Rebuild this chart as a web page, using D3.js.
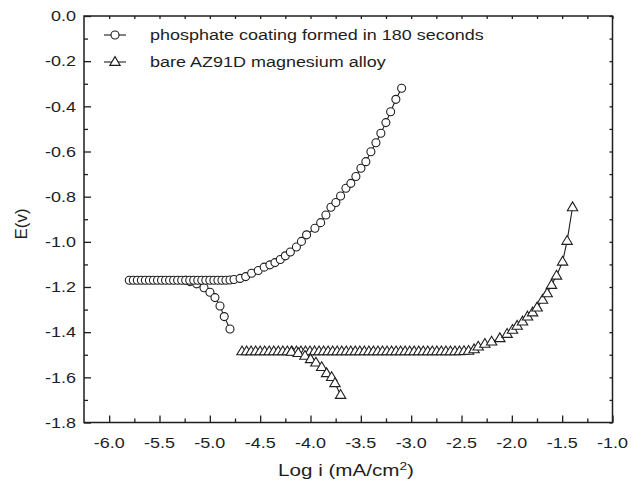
<!DOCTYPE html>
<html>
<head>
<meta charset="utf-8">
<script src="https://cdn.jsdelivr.net/npm/d3@7"></script>
<style>
  html, body { margin: 0; padding: 0; background: #fff; }
  svg { display: block; }
  text { font-family: "Liberation Sans", Arial, Helvetica, sans-serif; fill: #1e1e1e; }
</style>
</head>
<body>
<div id="chart"></div>
<script>
// ---------------- data ----------------
const xTicks = [-6.0, -5.5, -5.0, -4.5, -4.0, -3.5, -3.0, -2.5, -2.0, -1.5, -1.0];
const xTickLabels = ["-6.0", "-5.5", "-5.0", "-4.5", "-4.0", "-3.5", "-3.0", "-2.5", "-2.0", "-1.5", "-1.0"];
const xMinorTicks = [-5.75, -5.25, -4.75, -4.25, -3.75, -3.25, -2.75, -2.25, -1.75, -1.25];
const yTicks = [0.0, -0.2, -0.4, -0.6, -0.8, -1.0, -1.2, -1.4, -1.6, -1.8];
const yTickLabels = ["0.0", "-0.2", "-0.4", "-0.6", "-0.8", "-1.0", "-1.2", "-1.4", "-1.6", "-1.8"];
const yMinorTicks = [-0.1, -0.3, -0.5, -0.7, -0.9, -1.1, -1.3, -1.5, -1.7];

const legendLabels = ["phosphate coating formed in 180 seconds", "bare AZ91D magnesium alloy"];

// phosphate coating, anodic part (flat row + rising branch)
const phosLogI = [
  -5.80, -5.76, -5.72, -5.68, -5.64, -5.60, -5.56, -5.52, -5.48, -5.44,
  -5.40, -5.36, -5.32, -5.28, -5.24, -5.20, -5.16, -5.12, -5.08, -5.04,
  -5.00, -4.96, -4.92, -4.88, -4.84, -4.80, -4.76, -4.70, -4.644, -4.585,
  -4.519, -4.460, -4.403, -4.353, -4.30, -4.25, -4.20, -4.14, -4.09, -4.039,
  -3.956, -3.899, -3.847, -3.797, -3.748, -3.701, -3.648, -3.599, -3.549, -3.499,
  -3.450, -3.400, -3.350, -3.301, -3.251, -3.204, -3.152, -3.095
];
const phosE = [
  -1.170, -1.170, -1.170, -1.170, -1.170, -1.170, -1.170, -1.170, -1.170, -1.170,
  -1.170, -1.170, -1.170, -1.170, -1.170, -1.170, -1.170, -1.170, -1.170, -1.170,
  -1.170, -1.170, -1.170, -1.170, -1.170, -1.169, -1.167, -1.162, -1.154, -1.139,
  -1.127, -1.112, -1.102, -1.092, -1.078, -1.062, -1.045, -1.023, -0.998, -0.969,
  -0.940, -0.915, -0.881, -0.847, -0.826, -0.797, -0.763, -0.741, -0.711, -0.674,
  -0.645, -0.601, -0.561, -0.519, -0.472, -0.424, -0.369, -0.320
];
// phosphate coating, cathodic branch
const phosCathLogI = [-5.24, -5.197, -5.131, -5.058, -4.999, -4.949, -4.899, -4.857, -4.800];
const phosCathE = [-1.170, -1.176, -1.186, -1.203, -1.223, -1.247, -1.284, -1.331, -1.386];

// bare AZ91D, anodic part (flat row + rising branch)
const bareLogI = [
  -4.680, -4.635, -4.590, -4.545, -4.500, -4.455, -4.410, -4.365, -4.320, -4.275,
  -4.230, -4.185, -4.140, -4.095, -4.050, -4.005, -3.960, -3.915, -3.870, -3.825,
  -3.780, -3.735, -3.690, -3.645, -3.600, -3.555, -3.510, -3.465, -3.420, -3.375,
  -3.330, -3.285, -3.240, -3.195, -3.150, -3.105, -3.060, -3.015, -2.970, -2.925,
  -2.880, -2.835, -2.790, -2.745, -2.700, -2.655, -2.610, -2.565, -2.520, -2.475,
  -2.430, -2.375, -2.334, -2.268, -2.201, -2.119, -2.047, -1.993, -1.947, -1.894,
  -1.844, -1.794, -1.749, -1.695, -1.649, -1.606, -1.556, -1.496, -1.451, -1.397
];
const bareE = [
  -1.485, -1.485, -1.485, -1.485, -1.485, -1.485, -1.485, -1.485, -1.485, -1.485,
  -1.485, -1.485, -1.485, -1.485, -1.485, -1.485, -1.485, -1.485, -1.485, -1.485,
  -1.485, -1.485, -1.485, -1.485, -1.485, -1.485, -1.485, -1.485, -1.485, -1.485,
  -1.485, -1.485, -1.485, -1.485, -1.485, -1.485, -1.485, -1.485, -1.485, -1.485,
  -1.485, -1.485, -1.485, -1.485, -1.485, -1.485, -1.485, -1.485, -1.485, -1.484,
  -1.483, -1.476, -1.464, -1.452, -1.442, -1.427, -1.408, -1.390, -1.372, -1.353,
  -1.331, -1.313, -1.291, -1.257, -1.228, -1.191, -1.150, -1.088, -0.996, -0.847
];
// bare AZ91D, cathodic branch
const bareCathLogI = [-4.19, -4.122, -4.055, -3.999, -3.946, -3.889, -3.840, -3.790, -3.757, -3.701];
const bareCathE = [-1.487, -1.493, -1.505, -1.520, -1.535, -1.555, -1.582, -1.599, -1.626, -1.678];

// ---------------- drawing ----------------
(function () {
const W = 632, H = 481;
const mLeft = 84, mRight = 612.5, mTop = 16, mBottom = 422.5;
const STRETCH = 1.24;
const FS = 14.5;
const INK = "#1e1e1e";

const svg = d3.select("#chart").append("svg").attr("width", W).attr("height", H);

const x = d3.scaleLinear().domain([-6.25, -1.0]).range([mLeft, mRight]);
const y = d3.scaleLinear().domain([0, -1.8]).range([mTop, mBottom]);

function styleAxis(g) {
  g.select(".domain").remove();
  g.selectAll("line").attr("stroke", INK).attr("stroke-width", 1.3);
  g.selectAll("text").remove();
}
svg.append("g").attr("transform", `translate(0,${mBottom})`)
  .call(d3.axisBottom(x).tickValues(xTicks).tickSize(-7).tickFormat("")).call(styleAxis);
svg.append("g").attr("transform", `translate(0,${mBottom})`)
  .call(d3.axisBottom(x).tickValues(xMinorTicks).tickSize(-4).tickFormat("")).call(styleAxis);
svg.append("g").attr("transform", `translate(${mLeft},0)`)
  .call(d3.axisLeft(y).tickValues(yTicks).tickSize(-7).tickFormat("")).call(styleAxis);
svg.append("g").attr("transform", `translate(${mLeft},0)`)
  .call(d3.axisLeft(y).tickValues(yMinorTicks).tickSize(-4).tickFormat("")).call(styleAxis);
svg.append("g").attr("transform", `translate(0,${mTop})`)
  .call(d3.axisTop(x).tickValues(xTicks.concat(xMinorTicks)).tickSize(-3).tickFormat("")).call(styleAxis);
svg.append("g").attr("transform", `translate(${mRight},0)`)
  .call(d3.axisRight(y).tickValues(yTicks.concat(yMinorTicks)).tickSize(-3).tickFormat("")).call(styleAxis);

svg.append("rect").attr("x", mLeft).attr("y", mTop)
  .attr("width", mRight - mLeft).attr("height", mBottom - mTop)
  .attr("fill", "none").attr("stroke", INK).attr("stroke-width", 1.5);

svg.append("g").selectAll("text").data(xTicks).join("text")
  .attr("transform", d => `translate(${x(d)},448) scale(${STRETCH},1)`)
  .attr("text-anchor", "middle").attr("font-size", FS)
  .text((d, i) => xTickLabels[i]);
svg.append("g").selectAll("text").data(yTicks).join("text")
  .attr("transform", d => `translate(76,${y(d) + 5.2}) scale(${STRETCH},1)`)
  .attr("text-anchor", "end").attr("font-size", FS)
  .text((d, i) => yTickLabels[i]);

const xt = svg.append("text")
  .attr("transform", `translate(346,476) scale(1.25,1)`)
  .attr("text-anchor", "middle").attr("font-size", 16.5);
xt.append("tspan").text("Log i (mA/cm");
xt.append("tspan").attr("dy", -6.5).attr("font-size", 11).text("2");
xt.append("tspan").attr("dy", 6.5).text(")");

svg.append("text")
  .attr("transform", `translate(27,224) rotate(-90)`)
  .attr("text-anchor", "middle").attr("font-size", 17)
  .text("E(v)");

const line = d3.line().x(d => x(d[0])).y(d => y(d[1]));
const zip = (a, b) => a.map((v, i) => [v, b[i]]);

const phos = zip(phosLogI, phosE);
const phosCath = zip(phosCathLogI, phosCathE);
const bare = zip(bareLogI, bareE);
const bareCath = zip(bareCathLogI, bareCathE);

const triPath = "M0,-5.4L5.2,3.4L-5.2,3.4Z";

[bare, bareCath, phos, phosCath].forEach(s => {
  svg.append("path").attr("d", line(s)).attr("fill", "none")
    .attr("stroke", INK).attr("stroke-width", 1.1);
});

function drawCircles(data) {
  svg.append("g").selectAll("circle").data(data).join("circle")
    .attr("cx", d => x(d[0])).attr("cy", d => y(d[1])).attr("r", 4)
    .attr("fill", "#fff").attr("stroke", INK).attr("stroke-width", 1.1);
}
function drawTriangles(data) {
  svg.append("g").selectAll("path").data(data).join("path")
    .attr("transform", d => `translate(${x(d[0])},${y(d[1])})`)
    .attr("d", triPath)
    .attr("fill", "#fff").attr("stroke", INK).attr("stroke-width", 1.1);
}
drawTriangles(bare);
drawTriangles(bareCath);
drawCircles(phosCath);
drawCircles(phos);

const legendRows = [35, 62];
const lg = svg.append("g");
legendRows.forEach((ly, i) => {
  lg.append("line").attr("x1", 104).attr("x2", 126).attr("y1", ly).attr("y2", ly)
    .attr("stroke", INK).attr("stroke-width", 1.1);
  if (i === 0) {
    lg.append("circle").attr("cx", 115).attr("cy", ly).attr("r", 4)
      .attr("fill", "#fff").attr("stroke", INK).attr("stroke-width", 1.1);
  } else {
    lg.append("path").attr("transform", `translate(115,${ly})`).attr("d", triPath)
      .attr("fill", "#fff").attr("stroke", INK).attr("stroke-width", 1.1);
  }
  lg.append("text").attr("transform", `translate(150,${ly + 5.2}) scale(${STRETCH},1)`)
    .attr("font-size", FS).text(legendLabels[i]);
});
})();
</script>
</body>
</html>
